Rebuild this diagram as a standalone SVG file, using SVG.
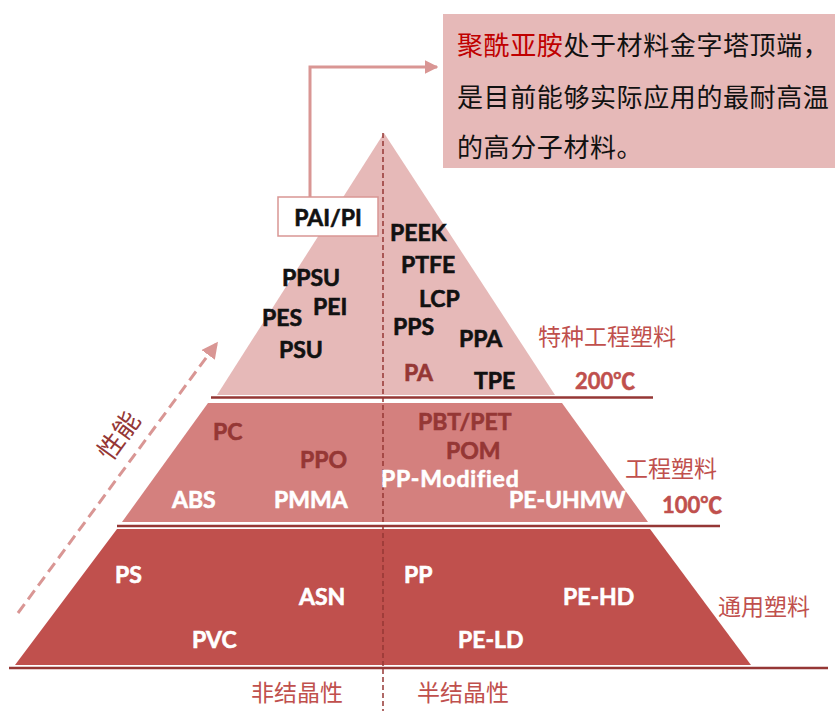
<svg xmlns="http://www.w3.org/2000/svg" width="837" height="711" viewBox="0 0 837 711">
<defs>
<style>
.lat{font-family:Lato,"Noto Sans CJK SC",sans-serif;font-weight:bold;font-size:23px;stroke-width:0.6px;paint-order:stroke}
.blk{fill:#111;stroke:#111}
.drk{fill:#953735;stroke:#953735}
.wht{fill:#fff;stroke:#fff}
.cjk{font-family:"Noto Sans CJK SC",sans-serif}
.lbl{font-family:"Noto Sans CJK SC",sans-serif;font-size:23px;fill:#c0504d}
.tmp{font-family:Lato,"Noto Sans CJK SC",sans-serif;font-weight:bold;font-size:22px;fill:#c0504d;stroke:#c0504d;stroke-width:0.5px}
.sep{stroke:#953735;stroke-width:2.5;fill:none}
</style>
<marker id="ah" viewBox="0 0 10 10" refX="9" refY="5" markerWidth="4.5" markerHeight="4.5" orient="auto" markerUnits="strokeWidth">
<path d="M0,0 L10,5 L0,10 z" fill="#d99694"/>
</marker>
<marker id="ah2" viewBox="0 0 10 10" refX="9" refY="5" markerWidth="5.5" markerHeight="5.5" orient="auto" markerUnits="strokeWidth">
<path d="M0,0 L10,5 L0,10 z" fill="#d99694"/>
</marker>
</defs>
<rect width="837" height="711" fill="#fff"/>

<g id="tier-top">
<polygon points="384,133 217,395 555,395" fill="#e6b9b8"/>
</g>
<g id="tier-mid">
<polygon points="208,403 562,403 648,522 122,522" fill="#d4807e"/>
</g>
<g id="tier-bottom">
<polygon points="117,529 650,529 751,665 15,665" fill="#c0504d"/>
</g>

<g id="separators">
<line class="sep" x1="211" y1="397.5" x2="653" y2="397.5"/>
<line class="sep" x1="117" y1="526" x2="720" y2="526"/>
<line class="sep" x1="9" y1="668" x2="828" y2="668"/>
</g>

<g id="connectors">
<line x1="383" y1="133" x2="383" y2="711" stroke="#953735" stroke-width="1.5" stroke-dasharray="5,3"/>
<polyline points="310,198 310,67 437,67" fill="none" stroke="#d99694" stroke-width="3" marker-end="url(#ah)"/>
<line x1="18" y1="613" x2="217" y2="343" stroke="#d99694" stroke-width="3" stroke-dasharray="11,6" marker-end="url(#ah2)"/>
</g>

<g id="callout">
<rect x="443" y="14" width="392" height="154" fill="#e6b9b8"/>
<text class="cjk" font-size="26" letter-spacing="0.6" x="457" y="55" fill="#111"><tspan fill="#c00000">聚酰亚胺</tspan>处于材料金字塔顶端，</text>
<text class="cjk" font-size="26" letter-spacing="0.6" x="457" y="107" fill="#111">是目前能够实际应用的最耐高温</text>
<text class="cjk" font-size="26" letter-spacing="0.6" x="457" y="157" fill="#111">的高分子材料。</text>
</g>

<g id="pai-pi">
<rect x="278" y="197" width="100" height="39" fill="#fff" stroke="#d99694" stroke-width="1.5"/>
<text class="lat blk" x="328" y="226" text-anchor="middle">PAI/PI</text>
</g>

<g id="special-materials">
<text class="lat blk" x="390" y="241">PEEK</text>
<text class="lat blk" x="401" y="273">PTFE</text>
<text class="lat blk" x="419" y="307">LCP</text>
<text class="lat blk" x="393" y="335">PPS</text>
<text class="lat blk" x="459" y="347">PPA</text>
<text class="lat drk" x="404" y="381">PA</text>
<text class="lat blk" x="474" y="389">TPE</text>
<text class="lat blk" x="282" y="286">PPSU</text>
<text class="lat blk" x="313" y="315">PEI</text>
<text class="lat blk" x="262" y="326">PES</text>
<text class="lat blk" x="279" y="358">PSU</text>
</g>

<g id="engineering-materials">
<text class="lat drk" x="213" y="440">PC</text>
<text class="lat drk" x="300" y="468">PPO</text>
<text class="lat drk" x="418" y="430">PBT/PET</text>
<text class="lat drk" x="446" y="459">POM</text>
<text class="lat wht" x="381" y="487" letter-spacing="0.8">PP-Modified</text>
<text class="lat wht" x="172" y="508">ABS</text>
<text class="lat wht" x="274" y="508">PMMA</text>
<text class="lat wht" x="509" y="508">PE-UHMW</text>
</g>

<g id="general-materials">
<text class="lat wht" x="115" y="583">PS</text>
<text class="lat wht" x="299" y="605">ASN</text>
<text class="lat wht" x="192" y="648">PVC</text>
<text class="lat wht" x="404" y="583">PP</text>
<text class="lat wht" x="563" y="605">PE-HD</text>
<text class="lat wht" x="458" y="648">PE-LD</text>
</g>

<g id="labels">
<text class="lbl" x="538" y="345">特种工程塑料</text>
<text class="tmp" x="575" y="389">200℃</text>
<text class="lbl" x="625" y="477">工程塑料</text>
<text class="tmp" x="662" y="513">100℃</text>
<text class="lbl" x="718" y="615">通用塑料</text>
<text class="lbl" x="251" y="701" fill="#b04a48">非结晶性</text>
<text class="lbl" x="417" y="701" fill="#b04a48">半结晶性</text>
<text class="cjk" font-size="26" fill="#953735" text-anchor="middle" transform="translate(119,436) rotate(-54)" dy="9">性能</text>
</g>
</svg>
